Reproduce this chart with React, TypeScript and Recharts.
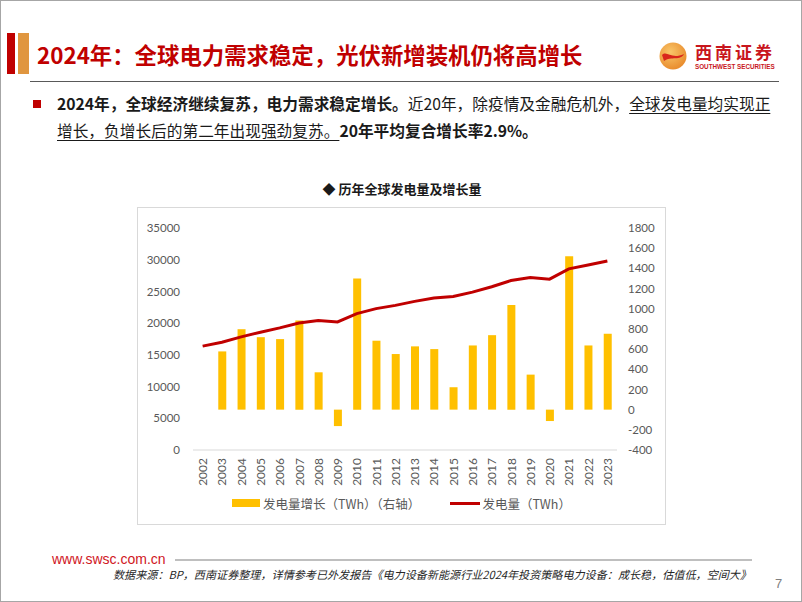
import { ComposedChart, Bar, Line, XAxis, YAxis, Legend } from 'recharts';

// 年份
const years = [
  '2002', '2003', '2004', '2005', '2006', '2007', '2008', '2009', '2010', '2011', '2012',
  '2013', '2014', '2015', '2016', '2017', '2018', '2019', '2020', '2021', '2022', '2023',
];
// 发电量（TWh），左轴
const generation = [
  16380, 17000, 17840, 18570, 19250, 20030, 20400, 20200, 21500, 22290, 22800,
  23430, 23950, 24210, 24890, 25730, 26720, 27190, 26930, 28560, 29180, 29810,
];
// 发电量增长（TWh），右轴
const growth = [
  null, 577, 797, 718, 699, 883, 370, -163, 1300, 683, 551,
  627, 600, 222, 636, 738, 1038, 347, -113, 1521, 636, 752,
];
const leftTicks = [0, 5000, 10000, 15000, 20000, 25000, 30000, 35000];
const rightTicks = [-400, -200, 0, 200, 400, 600, 800, 1000, 1200, 1400, 1600, 1800];

const chartData = years.map((year, i) => ({ year, generation: generation[i], growth: growth[i] }));

const CJK = '"Noto Sans CJK SC", sans-serif';
const TICK_FONT = 'Lato, "Noto Sans CJK SC", sans-serif';
const AXIS_GRAY = '#595959';
const RED = '#C00000';
const GOLD = '#FFC000';

function YearTick(props: any) {
  const { x, y, payload } = props;
  return (
    <text
      x={x}
      y={y}
      transform={`rotate(-90, ${x}, ${y})`}
      textAnchor="end"
      dominantBaseline="central"
      fill={AXIS_GRAY}
      fontSize={12}
      fontFamily={TICK_FONT}
    >
      {payload.value}
    </text>
  );
}

function ChartLegend() {
  return (
    <div
      style={{
        height: 20,
        display: 'flex',
        justifyContent: 'center',
        alignItems: 'center',
        fontFamily: CJK,
        fontSize: 12.5,
        color: AXIS_GRAY,
      }}
    >
      <span style={{ display: 'inline-block', width: 28, height: 8, background: GOLD, marginRight: 3 }} />
      <span>发电量增长（TWh）（右轴）</span>
      <span style={{ display: 'inline-block', width: 30, height: 3, background: RED, marginLeft: 30, marginRight: 2 }} />
      <span>发电量（TWh）</span>
    </div>
  );
}

function PowerChart() {
  return (
    <ComposedChart
      width={527}
      height={316}
      data={chartData}
      margin={{ top: 20, right: 0, bottom: 11, left: 0 }}
    >
      <XAxis
        dataKey="year"
        height={43}
        tick={<YearTick />}
        tickLine={false}
        tickSize={0}
        tickMargin={8}
        interval={0}
        axisLine={{ stroke: '#D9D9D9' }}
      />
      <YAxis
        yAxisId="left"
        orientation="left"
        width={55}
        domain={[0, 35000]}
        ticks={leftTicks}
        interval={0}
        axisLine={false}
        tickLine={false}
        tickSize={0}
        tickMargin={13}
        tick={{ fill: AXIS_GRAY, fontSize: 11.5, fontFamily: TICK_FONT }}
      />
      <YAxis
        yAxisId="right"
        orientation="right"
        width={48}
        domain={[-400, 1800]}
        ticks={rightTicks}
        interval={0}
        axisLine={false}
        tickLine={false}
        tickSize={0}
        tickMargin={11}
        tick={{ fill: AXIS_GRAY, fontSize: 11.5, fontFamily: TICK_FONT }}
      />
      <Legend verticalAlign="bottom" content={<ChartLegend />} />
      <Bar yAxisId="right" dataKey="growth" fill={GOLD} barSize={8} isAnimationActive={false} />
      <Line
        yAxisId="left"
        type="linear"
        dataKey="generation"
        stroke={RED}
        strokeWidth={3}
        dot={false}
        activeDot={false}
        isAnimationActive={false}
      />
    </ComposedChart>
  );
}

function Logo() {
  return (
    <div style={{ position: 'absolute', left: 658, top: 41, width: 120, height: 30 }}>
      <svg width={28} height={28} style={{ position: 'absolute', left: 0, top: 0 }}>
        <defs>
          <radialGradient id="lg" cx="40%" cy="35%" r="70%">
            <stop offset="0%" stopColor="#F9C66A" />
            <stop offset="100%" stopColor="#E8892A" />
          </radialGradient>
        </defs>
        <circle cx={14} cy={14} r={13.5} fill="url(#lg)" />
        <path d="M3 13 C8 8, 12 18, 25 12 C22 19, 12 14, 5 19 Z" fill="#D9261C" />
      </svg>
      <div
        style={{
          position: 'absolute',
          left: 36,
          top: 0,
          fontFamily: CJK,
          fontWeight: 700,
          fontSize: 17,
          lineHeight: '20px',
          letterSpacing: 3,
          color: '#C8161D',
          whiteSpace: 'nowrap',
        }}
      >
        西南证券
      </div>
      <div
        style={{
          position: 'absolute',
          left: 36,
          top: 21,
          fontFamily: '"Liberation Sans", Arial, sans-serif',
          fontWeight: 700,
          fontSize: 6.3,
          lineHeight: '7px',
          color: '#C8161D',
          whiteSpace: 'nowrap',
        }}
      >
        SOUTHWEST SECURITIES
      </div>
    </div>
  );
}

export default function App() {
  const u = { textDecoration: 'underline', textUnderlineOffset: 3 } as const;
  return (
    <div
      style={{
        position: 'fixed',
        left: 0,
        top: 0,
        width: 802,
        height: 602,
        boxSizing: 'border-box',
        border: '1px solid #A6A6A6',
        background: '#fff',
        overflow: 'hidden',
        fontFamily: CJK,
      }}
    >
      <div style={{ position: 'absolute', left: 6, top: 32, width: 8, height: 41, background: '#C00000' }} />
      <div style={{ position: 'absolute', left: 17, top: 32, width: 11, height: 41, background: '#E0963F' }} />
      <div
        style={{
          position: 'absolute',
          left: 36,
          top: 37,
          fontSize: 22.4,
          lineHeight: '32px',
          fontWeight: 700,
          color: '#C00000',
          whiteSpace: 'nowrap',
        }}
      >
        2024年：全球电力需求稳定，光伏新增装机仍将高增长
      </div>
      <Logo />
      <div style={{ position: 'absolute', left: 29, top: 80, width: 749, height: 1, background: '#595959' }} />

      <div style={{ position: 'absolute', left: 32, top: 99, width: 8, height: 8, background: '#C00000' }} />
      <div
        style={{
          position: 'absolute',
          left: 56,
          top: 89,
          width: 730,
          fontSize: 15.7,
          lineHeight: '27px',
          color: '#1A1A1A',
        }}
      >
        <div style={{ whiteSpace: 'nowrap' }}>
          <b>2024年，全球经济继续复苏，电力需求稳定增长。</b>
          近20年，除疫情及金融危机外，
          <span style={u}>全球发电量均实现正</span>
        </div>
        <div style={{ whiteSpace: 'nowrap' }}>
          <span style={u}>增长，负增长后的第二年出现强劲复苏。</span>
          <b>20年平均复合增长率2.9%。</b>
        </div>
      </div>

      <div
        style={{
          position: 'absolute',
          left: 0,
          width: 802,
          top: 178,
          textAlign: 'center',
          fontSize: 13,
          lineHeight: '20px',
          fontWeight: 700,
          color: '#1A1A1A',
        }}
      >
        ◆ 历年全球发电量及增长量
      </div>
      <div
        style={{
          position: 'absolute',
          left: 136,
          top: 206,
          width: 529,
          height: 318,
          boxSizing: 'border-box',
          border: '1px solid #D9D9D9',
        }}
      >
        <PowerChart />
      </div>

      <div
        style={{
          position: 'absolute',
          left: 51,
          top: 549,
          fontFamily: '"Liberation Sans", Arial, sans-serif',
          fontSize: 14,
          lineHeight: '18px',
          color: '#D0161E',
        }}
      >
        www.swsc.com.cn
      </div>
      <div style={{ position: 'absolute', left: 174, top: 558, width: 577, height: 2, background: '#BFBFBF' }} />
      <div
        style={{
          position: 'absolute',
          left: 112,
          top: 565,
          fontSize: 11.1,
          lineHeight: '16px',
          fontStyle: 'italic',
          color: '#262626',
          whiteSpace: 'nowrap',
        }}
      >
        数据来源：BP，西南证券整理，详情参考已外发报告《电力设备新能源行业2024年投资策略电力设备：成长稳，估值低，空间大》
      </div>
      <div
        style={{
          position: 'absolute',
          left: 774,
          top: 574,
          fontFamily: '"Liberation Sans", Arial, sans-serif',
          fontSize: 13,
          lineHeight: '18px',
          color: '#7F7F7F',
        }}
      >
        7
      </div>
    </div>
  );
}
